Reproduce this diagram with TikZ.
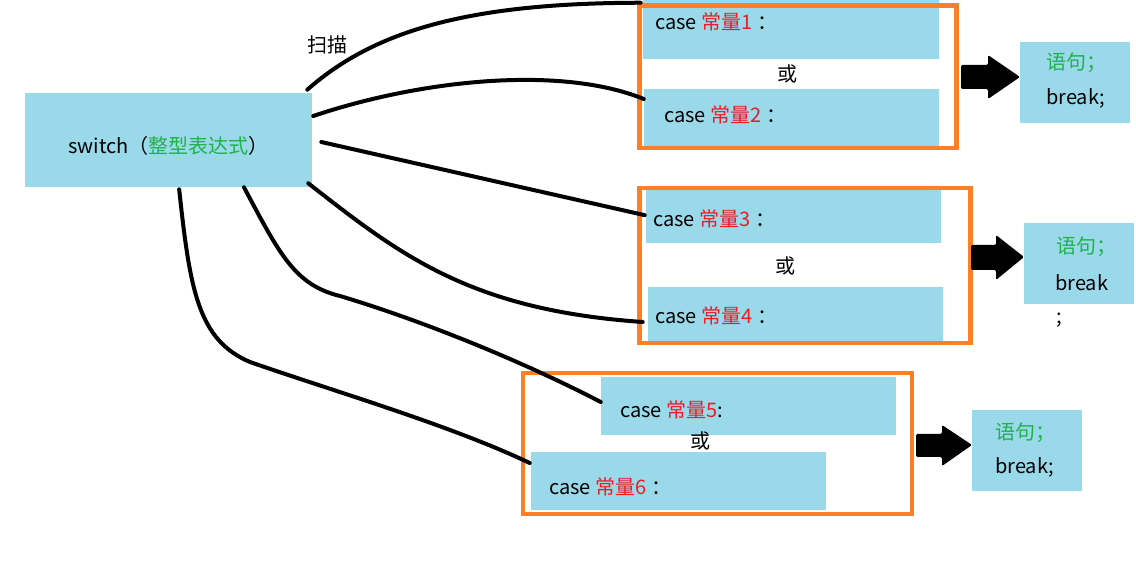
\documentclass[tikz,border=0pt]{standalone}
\usepackage{fontspec}
\setmainfont{Noto Sans CJK SC}
\usetikzlibrary{fit}
\definecolor{boxblue}{RGB}{153,217,234}
\definecolor{grporange}{RGB}{255,127,39}
\definecolor{cred}{RGB}{237,28,36}
\definecolor{cgreen}{RGB}{34,177,76}
\begin{document}
\begin{tikzpicture}[x=0.75pt,y=-0.75pt,
  bluebox/.style={fill=boxblue,inner sep=0pt,draw=none},
  grpbox/.style={draw=grporange,line width=3.4pt},
  txt/.style={anchor=west,inner sep=0pt,font=\fontsize{15}{18}\selectfont},
  link/.style={draw=black,line width=3pt,line cap=round},
  blockarrow/.style={fill=black,rounded corners=1pt}]
\useasboundingbox (0,0) rectangle (1136,566);
% switch box
\node[bluebox,fit={(25,93) (312,187)}] (sw) {};
\node[txt] (swt) at (68,146) {switch（\textcolor{cgreen}{整型表达式}）};
\node[txt] (scan) at (307,45) {扫描};
% case boxes
\node[bluebox,fit={(643,0) (939,59)}] (c1) {};
\node[bluebox,fit={(644,89) (939,146)}] (c2) {};
\node[bluebox,fit={(646,190) (941,243)}] (c3) {};
\node[bluebox,fit={(648,287) (943,341)}] (c4) {};
\node[bluebox,fit={(601,377) (896,435)}] (c5) {};
\node[bluebox,fit={(531,452) (826,510)}] (c6) {};
\node[txt] (t1) at (655,22) {case \textcolor{cred}{常量1} ：};
\node[txt] (t2) at (664,115) {case \textcolor{cred}{常量2} ：};
\node[txt] (t3) at (653,219) {case \textcolor{cred}{常量3} ：};
\node[txt] (t4) at (655,316) {case \textcolor{cred}{常量4} ：};
\node[txt] (t5) at (620,410) {case \textcolor{cred}{常量5}:};
\node[txt] (t6) at (549,487) {case \textcolor{cred}{常量6} ：};
% or labels
\node[txt,anchor=center] (o1) at (787,74) {或};
\node[txt,anchor=center] (o2) at (785,266) {或};
\node[txt,anchor=center] (o3) at (700,441) {或};
% group boxes
\draw[grpbox] (639.5,5.5) rectangle (956.5,148);
\draw[grpbox] (639.5,188) rectangle (970.5,343);
\draw[grpbox] (523,373) rectangle (912,514);
% result boxes
\node[bluebox,fit={(1020,42) (1130,123)}] (r1) {};
\node[bluebox,fit={(1024,223) (1134,304)}] (r2) {};
\node[bluebox,fit={(972,410) (1082,491)}] (r3) {};
\node[txt] (r1a) at (1046,63) {\textcolor{cgreen}{语句；}};
\node[txt] (r1b) at (1046,98) {break;};
\node[txt] (r2a) at (1056,247) {\textcolor{cgreen}{语句；}};
\node[txt] (r2b) at (1055,283) {break};
\node[txt] (r2c) at (1056,320) {;};
\node[txt] (r3a) at (995,433) {\textcolor{cgreen}{语句；}};
\node[txt] (r3b) at (995,467) {break;};
% block arrows
\fill[blockarrow] (961,65) -- (988,65) -- (988,55) -- (1020,77) -- (988,99) -- (988,89) -- (961,89) -- cycle;
\fill[blockarrow] (971,245) -- (996,245) -- (996,235) -- (1024,257) -- (996,280) -- (996,270) -- (971,270) -- cycle;
\fill[blockarrow] (916,434) -- (942,434) -- (942,425) -- (972,445) -- (942,466) -- (942,457) -- (916,457) -- cycle;
% connectors
\draw[link] ([xshift=-3.75pt,yshift=2.25pt]sw.north east) .. controls (375,30) and (470,3) .. ([xshift=-1.5pt,yshift=-2.25pt]c1.north west);
\draw[link] ([xshift=0.75pt,yshift=18pt]sw.east) .. controls (420,80) and (560,65) .. ([yshift=13.9pt]c2.west);
\draw[link] ([xshift=6.75pt,yshift=-1.5pt]sw.east) -- ([xshift=-0.75pt,yshift=1pt]c3.west);
\draw[link] ([xshift=-3pt,yshift=3pt]sw.south east) .. controls (400,255) and (470,310) .. ([xshift=-3.75pt,yshift=-6pt]c4.west);
\draw[link] ([xshift=56.6pt]sw.south) .. controls (280,255) and (295,285) .. (340,296) .. controls (420,320) and (520,360) .. ([yshift=3pt]c5.west);
\draw[link] ([xshift=8pt,yshift=-1.5pt]sw.south) .. controls (190,290) and (198,340) .. (250,362) .. controls (330,390) and (450,425) .. ([xshift=-0.75pt,yshift=13.5pt]c6.west);
\end{tikzpicture}
\end{document}
